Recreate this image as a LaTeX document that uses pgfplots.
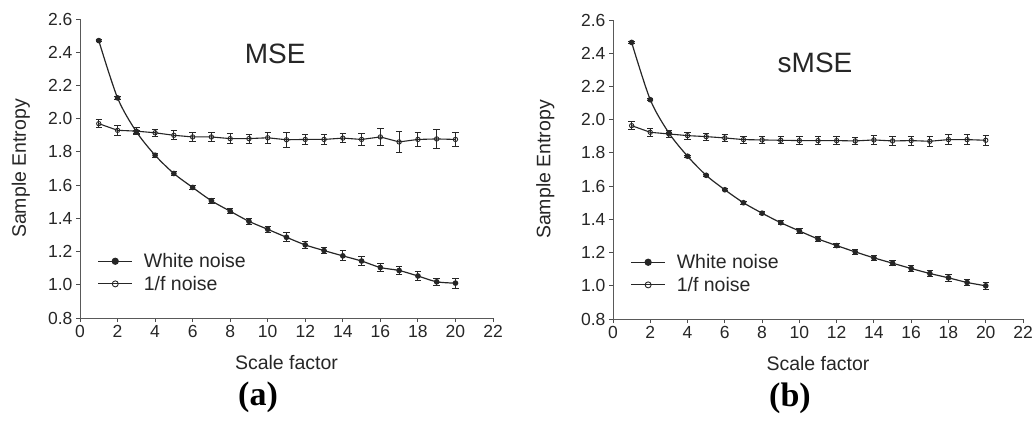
\documentclass[border=0pt]{standalone}
\usepackage{pgfplots}
\pgfplotsset{compat=1.18}
\usepackage{pgfplotstable}
\usepackage{fontspec}
\setmainfont{Liberation Sans}
\newfontfamily\capfont{Liberation Serif}

% x  y  err
\pgfplotstableread{
x y e
1 2.470 0.006
2 2.125 0.008
3 1.922 0.010
4 1.780 0.012
5 1.670 0.012
6 1.586 0.015
7 1.506 0.015
8 1.443 0.015
9 1.382 0.020
10 1.334 0.020
11 1.286 0.028
12 1.240 0.020
13 1.206 0.018
14 1.174 0.030
15 1.143 0.025
16 1.104 0.025
17 1.086 0.024
18 1.053 0.025
19 1.018 0.020
20 1.010 0.030
}\msewhite
\pgfplotstableread{
x y e
1 1.970 0.025
2 1.930 0.028
3 1.925 0.022
4 1.915 0.022
5 1.900 0.027
6 1.890 0.028
7 1.890 0.027
8 1.880 0.030
9 1.880 0.027
10 1.885 0.035
11 1.873 0.045
12 1.875 0.030
13 1.875 0.028
14 1.883 0.028
15 1.875 0.035
16 1.890 0.050
17 1.860 0.065
18 1.875 0.040
19 1.878 0.060
20 1.875 0.045
}\msepink
\pgfplotstableread{
x y e
1 2.465 0.004
2 2.120 0.005
3 1.920 0.005
4 1.780 0.005
5 1.665 0.005
6 1.578 0.007
7 1.500 0.008
8 1.437 0.010
9 1.380 0.011
10 1.330 0.013
11 1.282 0.013
12 1.242 0.014
13 1.204 0.015
14 1.168 0.015
15 1.136 0.015
16 1.104 0.016
17 1.074 0.018
18 1.048 0.020
19 1.020 0.020
20 1.000 0.022
}\smsewhite
\pgfplotstableread{
x y e
1 1.964 0.025
2 1.924 0.025
3 1.914 0.022
4 1.904 0.022
5 1.898 0.022
6 1.890 0.022
7 1.880 0.022
8 1.878 0.022
9 1.876 0.022
10 1.874 0.022
11 1.874 0.022
12 1.874 0.022
13 1.872 0.022
14 1.878 0.025
15 1.872 0.025
16 1.874 0.028
17 1.870 0.030
18 1.880 0.030
19 1.880 0.030
20 1.876 0.030
}\smsepink

\pgfplotsset{
  panel/.style={
    scale only axis,
    anchor=south west,
    xmin=0, xmax=22, ymin=0.8, ymax=2.6,
    xtick={0,2,...,22},
    ytick={0.8,1.0,...,2.6},
    yticklabel style={/pgf/number format/.cd,fixed,fixed zerofill,precision=1},
    /pgf/number format/assume math mode=true,
    tick label style={font=\fontsize{17.5}{19}\selectfont, text=black!85},
    axis x line*=bottom, axis y line*=left,
    axis line style={black!65, line width=1pt},
    tick style={black!70, line width=0.9pt},
    tick align=outside, major tick length=4pt,
    xlabel={Scale factor}, ylabel={Sample Entropy},
    label style={font=\fontsize{19.5}{21}\selectfont, text=black!85},
    xlabel style={at={(axis description cs:0.5,-0.150)}, anchor=center},
    legend style={draw=none, fill=none, font=\fontsize{19.5}{21}\selectfont,
      at={(axis description cs:0.035,0.23)}, anchor=north west,
      row sep=3pt, text=black!85,
      /tikz/every odd column/.append style={column sep=9pt}},
    legend cell align=left,
    legend image code/.code={
      \draw[mark repeat=2,mark phase=2,mark size=3pt]
        plot coordinates {(0pt,0pt) (17pt,0pt) (34pt,0pt)};},
  },
  white/.style={black!85, line width=1.2pt, smooth, mark=*, mark size=2.2pt,
    mark options={fill=black!85},
    error bars/.cd, y dir=both, y explicit,
    error bar style={line width=0.9pt},
    error mark options={rotate=90, mark size=3.2pt, line width=0.9pt}},
  pink/.style={black!85, line width=1.1pt, mark=o, mark size=2.2pt,
    mark options={fill=white, line width=0.9pt},
    error bars/.cd, y dir=both, y explicit,
    error bar style={line width=0.9pt},
    error mark options={rotate=90, mark size=3.2pt, line width=0.9pt}},
}

\begin{document}
\begin{tikzpicture}
\useasboundingbox (0pt,0pt) rectangle (1032pt,-426pt);

\begin{axis}[panel, at={(80pt,-318pt)}, width=413pt, height=299pt,
  ylabel style={at={(axis description cs:-0.143,0.5)}, anchor=center}]
\addplot[white] table[x=x, y=y, y error=e] {\msewhite};
\addlegendentry{White noise}
\addplot[pink] table[x=x, y=y, y error=e] {\msepink};
\addlegendentry{1/f noise}
\node[font=\fontsize{28}{30}\selectfont, text=black!85] at (axis cs:10.4,2.39) {MSE};
\end{axis}

\begin{axis}[panel, at={(613pt,-319pt)}, width=410pt, height=299pt,
  ylabel style={at={(axis description cs:-0.165,0.5)}, anchor=center}]
\addplot[white] table[x=x, y=y, y error=e] {\smsewhite};
\addlegendentry{White noise}
\addplot[pink] table[x=x, y=y, y error=e] {\smsepink};
\addlegendentry{1/f noise}
\node[font=\fontsize{28}{30}\selectfont, text=black!85] at (axis cs:10.84,2.34) {sMSE};
\end{axis}

\node[font=\capfont\bfseries\fontsize{34}{36}\selectfont] at (258pt,-397pt) {(a)};
\node[font=\capfont\bfseries\fontsize{34}{36}\selectfont] at (790pt,-398pt) {(b)};
\end{tikzpicture}
\end{document}
